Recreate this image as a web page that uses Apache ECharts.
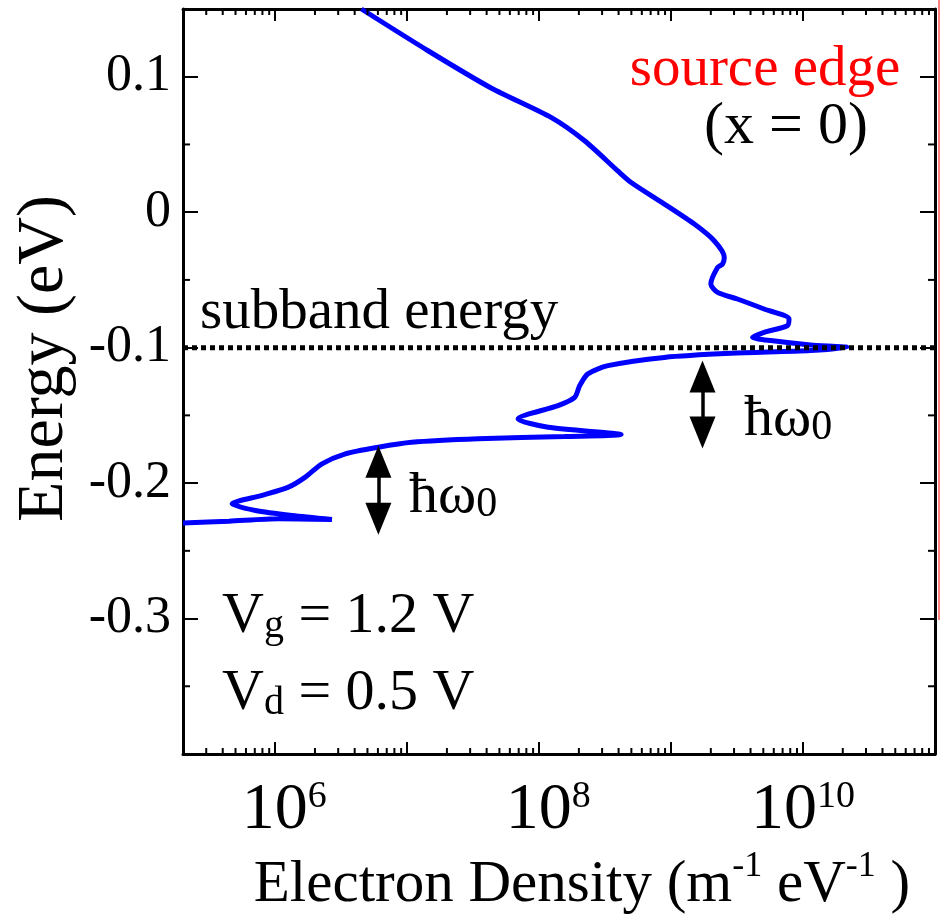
<!DOCTYPE html>
<html>
<head>
<meta charset="utf-8">
<title>Electron density vs energy</title>
<script src="https://cdn.jsdelivr.net/npm/echarts@6/dist/echarts.min.js"></script>
<style>
html, body { margin: 0; padding: 0; background: #fff; }
#chart { width: 943px; height: 919px; }
</style>
</head>
<body>
<div id="chart"></div>
<script>
// curve, from the top edge down to the left edge
var energy = [0.150, 0.119, 0.0915, 0.0698, 0.0527, 0.0305, 0.0219, 0.006, -0.0088, -0.0211,
    -0.0334, -0.0383, -0.0408, -0.053, -0.0592, -0.0641, -0.0715, -0.0788, -0.0838, -0.0887,
    -0.0924, -0.0948, -0.098, -0.0998, -0.1022, -0.1042, -0.1072, -0.1133, -0.1194, -0.128,
    -0.1367, -0.1428, -0.1526, -0.1588, -0.1642, -0.1656, -0.1673, -0.1699, -0.1735, -0.1784,
    -0.1858, -0.1956, -0.203, -0.2091, -0.2153, -0.2202, -0.2239, -0.2268, -0.2263, -0.2281, -0.2295];
var density = [4.5e6, 1.45e7, 4.36e7, 1.24e8, 2.21e8, 3.94e8, 4.98e8, 8.9e8, 1.5e9, 2.12e9,
    2.53e9, 2.45e9, 2.25e9, 2.0e9, 2.25e9, 3.18e9, 5.07e9, 7.83e9, 7.6e9, 5.07e9,
    4.14e9, 5.69e9, 1.14e10, 2.16e10, 1.14e10, 2.84e9, 8.9e8, 3.32e8, 2.34e8, 2.03e8,
    1.86e8, 1.39e8, 6.92e7, 1.17e8, 4.18e8, 1.56e8, 3.45e7, 1.08e7, 6.05e6, 3.4e6,
    2.26e6, 1.69e6, 1.26e6, 7.94e5, 4.71e5, 7.08e5, 1.34e6, 2.69e6, 1.06e6, 4.46e5, 2.0e5];

var subbandEnergy = -0.1;
var densityRange = [2e5, 1e11];
var energyRange = [-0.4, 0.15];
var energyMinor = [-0.35, -0.25, -0.15, -0.05, 0.05];
// phonon arrows: density, upper energy, lower energy
var arrowDensity = [1.73e9, 6.05e6];
var arrowTop = [-0.1214, -0.1843];
var arrowBottom = [-0.1627, -0.2263];

var FONT = 'Liberation Serif';

var curve = density.map(function (d, i) { return [d, energy[i]]; });

var densityMinor = [];
for (var e = 5; e <= 10; e++) {
    for (var k = 2; k <= 9; k++) {
        var v = k * Math.pow(10, e);
        if (v > densityRange[0] && v < densityRange[1]) densityMinor.push([v, energyRange[0]]);
    }
}

function minorTicks(onX, len) {
    return function (params, api) {
        var cs = params.coordSys;
        var p = api.coord([api.value(0), api.value(1)]);
        var st = { stroke: '#000', lineWidth: 2 };
        if (onX) {
            return { type: 'group', children: [
                { type: 'line', shape: { x1: p[0], y1: cs.y + cs.height, x2: p[0], y2: cs.y + cs.height - len }, style: st },
                { type: 'line', shape: { x1: p[0], y1: cs.y, x2: p[0], y2: cs.y + len }, style: st }
            ] };
        }
        return { type: 'group', children: [
            { type: 'line', shape: { x1: cs.x, y1: p[1], x2: cs.x + len, y2: p[1] }, style: st },
            { type: 'line', shape: { x1: cs.x + cs.width, y1: p[1], x2: cs.x + cs.width - len, y2: p[1] }, style: st }
        ] };
    };
}

function subText(main, sub, tail, subSize) {
    return {
        text: '{a|' + main + '}{s|' + sub + '}' + (tail ? '{a|' + tail + '}' : ''),
        align: 'left', verticalAlign: 'middle',
        rich: {
            a: { fontFamily: FONT, fontSize: 58, lineHeight: 58, verticalAlign: 'top', fill: '#000' },
            s: { fontFamily: FONT, fontSize: subSize, lineHeight: subSize, verticalAlign: 'bottom', fill: '#000' }
        }
    };
}

var axisLine = { show: true, onZero: false, lineStyle: { color: '#000', width: 3 } };

var xLabel = {
    margin: 24,
    color: '#000',
    formatter: function (val) {
        var ex = Math.log(val) / Math.LN10;
        var r = Math.round(ex);
        if (Math.abs(ex - r) > 1e-6 || r % 2) return '';
        return (r < 10 ? '{p|}' : '') + '{b|10}{s|' + r + '}';
    },
    rich: {
        p: { width: 18 },
        b: { fontFamily: FONT, fontSize: 66, lineHeight: 66, verticalAlign: 'bottom', color: '#000' },
        s: { fontFamily: FONT, fontSize: 38, lineHeight: 38, verticalAlign: 'top', color: '#000' }
    }
};

var option = {
    backgroundColor: '#fff',
    animation: false,
    grid: { left: 183, top: 9, width: 752, height: 745, outerBoundsMode: 'none', containLabel: false },
    xAxis: [{
        type: 'log', logBase: 10, min: densityRange[0], max: densityRange[1], position: 'bottom',
        axisLine: axisLine,
        axisTick: { inside: true, length: 12, lineStyle: { color: '#000', width: 2 } },
        axisLabel: xLabel,
        splitLine: { show: false },
        name: '{t|Electron Density (m}{u|-1}{t| eV}{u|-1}{t| )}',
        nameLocation: 'middle',
        nameGap: 80,
        nameTextStyle: {
            padding: [0, 0, 0, 46],
            rich: {
                t: { fontFamily: FONT, fontSize: 59, lineHeight: 66, verticalAlign: 'bottom', color: '#000' },
                u: { fontFamily: FONT, fontSize: 36, lineHeight: 36, verticalAlign: 'top', color: '#000' }
            }
        }
    }, {
        type: 'log', logBase: 10, min: densityRange[0], max: densityRange[1], position: 'top',
        axisLine: axisLine,
        axisTick: { inside: true, length: 12, lineStyle: { color: '#000', width: 2 } },
        axisLabel: { show: false },
        splitLine: { show: false }
    }],
    yAxis: [{
        type: 'value', min: energyRange[0], max: energyRange[1], interval: 0.1, position: 'left',
        axisLine: axisLine,
        axisTick: { inside: true, length: 15, lineStyle: { color: '#000', width: 2 } },
        axisLabel: { margin: 12, color: '#000', fontFamily: FONT, fontSize: 52, showMinLabel: false, showMaxLabel: false },
        splitLine: { show: false },
        name: 'Energy (eV)',
        nameLocation: 'middle',
        nameRotate: 90,
        nameGap: 103,
        nameTextStyle: { fontFamily: FONT, fontSize: 66, color: '#000', padding: [0, 0, 0, 46] }
    }, {
        type: 'value', min: energyRange[0], max: energyRange[1], interval: 0.1, position: 'right',
        axisLine: axisLine,
        axisTick: { inside: true, length: 15, lineStyle: { color: '#000', width: 2 } },
        axisLabel: { show: false },
        splitLine: { show: false }
    }],
    series: [{
        name: 'density',
        type: 'line',
        data: curve,
        showSymbol: false,
        smooth: 0.25,
        lineStyle: { color: '#0000ff', width: 5 },
        z: 3
    }, {
        name: 'subband energy',
        type: 'line',
        data: [[densityRange[0], subbandEnergy], [densityRange[1], subbandEnergy]],
        showSymbol: false,
        lineStyle: { color: '#000', width: 5, type: [5, 4] },
        z: 4,
        markLine: {
            silent: true,
            symbol: ['triangle', 'triangle'],
            symbolSize: [26, 32],
            label: { show: false },
            lineStyle: { color: '#000', width: 3.5, type: 'solid' },
            data: arrowDensity.map(function (d, i) {
                return [{ coord: [d, arrowTop[i]] }, { coord: [d, arrowBottom[i]] }];
            })
        }
    }, {
        type: 'custom',
        clip: false,
        renderItem: minorTicks(true, 6),
        data: densityMinor,
        z: 5
    }, {
        type: 'custom',
        clip: false,
        renderItem: minorTicks(false, 7),
        data: energyMinor.map(function (y) { return [densityRange[0], y]; }),
        z: 5
    }],
    graphic: [
        { type: 'line', shape: { x1: 939, y1: 0, x2: 939, y2: 620 }, style: { stroke: '#ff0000', lineWidth: 1 } },
        { type: 'text', x: 765, y: 70, style: { text: 'source edge', font: '57px "Liberation Serif"', fill: '#ff0000', align: 'center', verticalAlign: 'middle' } },
        { type: 'text', x: 786, y: 127, style: { text: '(x = 0)', font: '60px "Liberation Serif"', fill: '#000', align: 'center', verticalAlign: 'middle' } },
        { type: 'text', x: 200, y: 313, style: { text: 'subband energy', font: '57px "Liberation Serif"', fill: '#000', align: 'left', verticalAlign: 'middle' } },
        { type: 'text', x: 744, y: 420, style: subText('ħω', '0', '', 42) },
        { type: 'text', x: 409, y: 497, style: subText('ħω', '0', '', 42) },
        { type: 'text', x: 222, y: 617, style: subText('V', 'g', ' = 1.2 V', 40) },
        { type: 'text', x: 222, y: 694, style: subText('V', 'd', ' = 0.5 V', 40) }
    ]
};

var chart = echarts.init(document.getElementById('chart'));
chart.setOption(option);
</script>
</body>
</html>
